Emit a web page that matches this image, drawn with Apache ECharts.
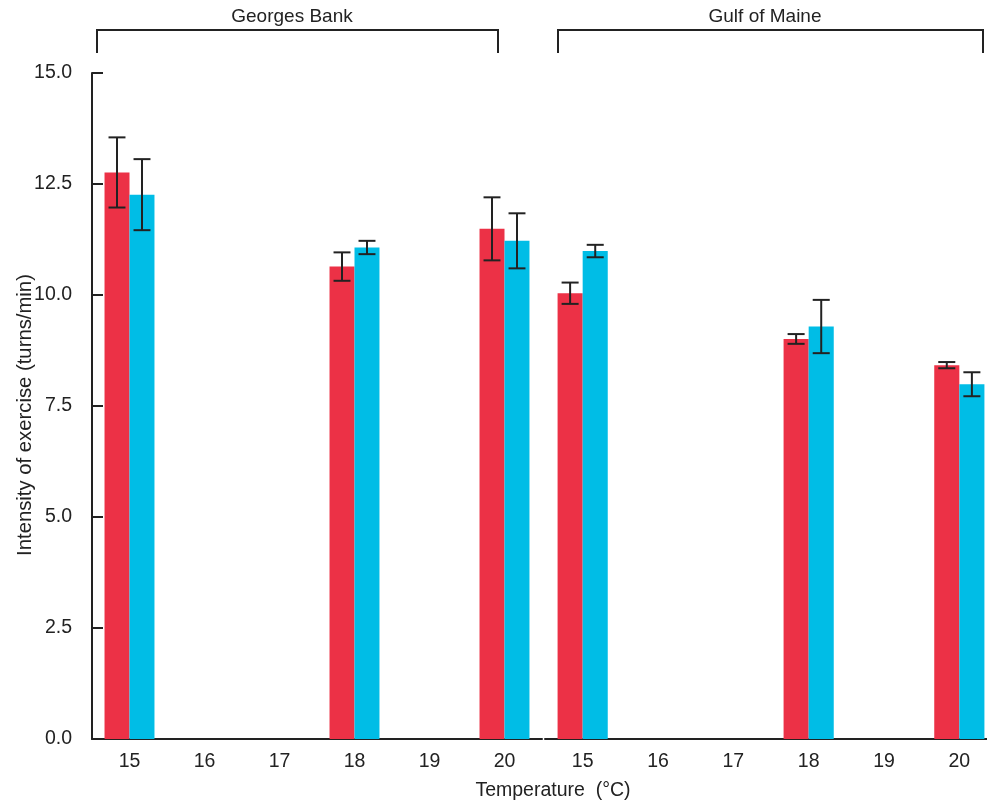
<!DOCTYPE html>
<html>
<head>
<meta charset="utf-8">
<script src="https://cdn.jsdelivr.net/npm/echarts@6/dist/echarts.min.js"></script>
<style>
  html, body { margin: 0; padding: 0; background: #fff; }
  #chart { width: 987px; height: 811px; }
</style>
</head>
<body>
<div id="chart"></div>
<script>
// Temperature categories (°C), shared by both sites
const temps = ['15', '16', '17', '18', '19', '20'];
const yTicks = [0, 2.5, 5, 7.5, 10, 12.5, 15];

// Georges Bank: mean intensity (turns/min) and error half-widths
const gbRed = [12.76, null, null, 10.64, null, 11.49];
const gbRedErr = [0.79, null, null, 0.32, null, 0.71];
const gbBlue = [12.26, null, null, 11.07, null, 11.22];
const gbBlueErr = [0.80, null, null, 0.15, null, 0.62];

// Gulf of Maine
const gomRed = [10.04, null, null, 9.01, null, 8.42];
const gomRedErr = [0.24, null, null, 0.11, null, 0.07];
const gomBlue = [10.99, null, null, 9.29, null, 7.99];
const gomBlueErr = [0.14, null, null, 0.60, null, 0.27];

const RED = '#ec3146';
const BLUE = '#00bde6';
const INK = '#222';
const FONT = '"Liberation Sans", Arial, sans-serif';
const FS = 19.5;

function barData(vals) {
  return vals.map(v => (v == null ? '-' : v));
}
function errData(vals, errs) {
  const out = [];
  vals.forEach((v, i) => { if (v != null) out.push([i, v, errs[i]]); });
  return out;
}

// side: -1 for the left bar of each pair, +1 for the right one
function errorBarRenderer(side) {
  return function (params, api) {
    const idx = api.value(0);
    const mean = api.value(1);
    const err = api.value(2);
    const band = api.size([1, 0])[0];
    const x = api.coord([idx, mean])[0] + side * band / 6;
    const yHi = api.coord([idx, mean + err])[1];
    const yLo = api.coord([idx, mean - err])[1];
    const half = band * 0.113;
    const style = { stroke: INK, lineWidth: 2, fill: null };
    return {
      type: 'group',
      children: [
        { type: 'line', shape: { x1: x, y1: yHi, x2: x, y2: yLo }, style: style },
        { type: 'line', shape: { x1: x - half, y1: yHi, x2: x + half, y2: yHi }, style: style },
        { type: 'line', shape: { x1: x - half, y1: yLo, x2: x + half, y2: yLo }, style: style }
      ]
    };
  };
}

function xAxisFor(gridIndex) {
  return {
    type: 'category',
    gridIndex: gridIndex,
    data: temps,
    boundaryGap: true,
    axisLine: { lineStyle: { color: INK, width: 2 } },
    axisTick: { alignWithLabel: true, inside: true, length: 9, lineStyle: { color: INK, width: 2 } },
    axisLabel: { color: INK, fontSize: FS, fontFamily: FONT, margin: 13 },
    splitLine: { show: false }
  };
}

function yAxisFor(gridIndex, visible) {
  return {
    type: 'value',
    gridIndex: gridIndex,
    min: yTicks[0],
    max: yTicks[yTicks.length - 1],
    interval: 2.5,
    show: visible,
    axisLine: { show: true, lineStyle: { color: INK, width: 2 } },
    axisTick: { show: true, inside: true, length: 11, lineStyle: { color: INK, width: 2 } },
    axisLabel: { color: INK, fontSize: FS, fontFamily: FONT, margin: 20,
                 formatter: v => v.toFixed(1) },
    splitLine: { show: false }
  };
}

function bars(name, vals, color, gridIndex) {
  return {
    name: name, type: 'bar',
    xAxisIndex: gridIndex, yAxisIndex: gridIndex,
    data: barData(vals),
    barWidth: '33.3%', barGap: '0%',
    itemStyle: { color: color },
    silent: true
  };
}

function errs(name, vals, errsArr, side, gridIndex) {
  return {
    name: name, type: 'custom',
    xAxisIndex: gridIndex, yAxisIndex: gridIndex,
    data: errData(vals, errsArr),
    encode: { x: 0, y: 1 },
    renderItem: errorBarRenderer(side),
    z: 5, silent: true
  };
}

function bracket(x1, x2, yTop, yBottom) {
  return {
    type: 'polyline',
    shape: { points: [[x1, yBottom], [x1, yTop], [x2, yTop], [x2, yBottom]] },
    style: { stroke: INK, lineWidth: 2, fill: null }
  };
}

function label(text, x, y, fs, rot) {
  return {
    type: 'text', x: x, y: y, rotation: rot || 0,
    style: { text: text, fill: INK, fontSize: fs, fontFamily: FONT, align: 'center', verticalAlign: 'middle' }
  };
}

const chart = echarts.init(document.getElementById('chart'), null, { renderer: 'canvas' });
chart.setOption({
  backgroundColor: '#fff',
  animation: false,
  grid: [
    { left: 92, top: 73, width: 450, height: 666, outerBoundsMode: 'none', containLabel: false },
    { left: 545, top: 73, width: 452, height: 666, outerBoundsMode: 'none', containLabel: false }
  ],
  xAxis: [xAxisFor(0), xAxisFor(1)],
  yAxis: [yAxisFor(0, true), yAxisFor(1, false)],
  series: [
    bars('red', gbRed, RED, 0),
    bars('blue', gbBlue, BLUE, 0),
    errs('red error', gbRed, gbRedErr, -1, 0),
    errs('blue error', gbBlue, gbBlueErr, 1, 0),
    bars('red', gomRed, RED, 1),
    bars('blue', gomBlue, BLUE, 1),
    errs('red error', gomRed, gomRedErr, -1, 1),
    errs('blue error', gomBlue, gomBlueErr, 1, 1)
  ],
  graphic: [
    bracket(97, 498, 30, 53),
    bracket(558, 983, 30, 53),
    label('Georges Bank', 292, 17, 19),
    label('Gulf of Maine', 765, 17, 19),
    label('Temperature  (°C)', 553, 791, FS),
    label('Intensity of exercise (turns/min)', 25, 415, 20.3, Math.PI / 2)
  ]
});
</script>
</body>
</html>
